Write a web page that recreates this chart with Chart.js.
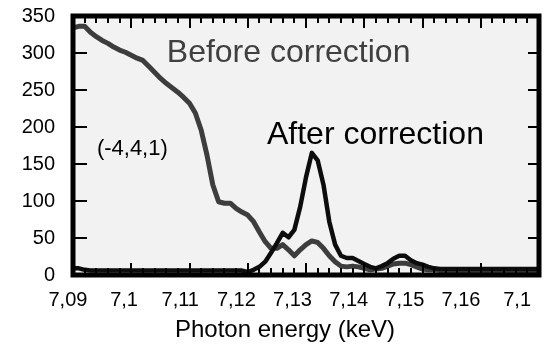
<!DOCTYPE html>
<html><head><meta charset="utf-8">
<script src="https://cdn.jsdelivr.net/npm/chart.js@4/dist/chart.umd.min.js"></script>
<style>html,body{margin:0;padding:0;background:#fff;}</style>
</head><body>
<canvas id="c" width="545" height="344" style="width:545px;height:344px;display:block"></canvas>
<script>
const energies = [
  7.090,7.091,7.092,7.093,7.094,7.095,7.096,7.097,7.098,7.099,
  7.100,7.101,7.102,7.103,7.104,7.105,7.106,7.107,7.108,7.109,
  7.110,7.111,7.112,7.113,7.114,7.115,7.116,7.117,7.118,7.119,
  7.120,7.121,7.122,7.123,7.124,7.125,7.126,7.127,7.128,7.129,
  7.130,7.131,7.132,7.133,7.134,7.135,7.136,7.137,7.138,7.139,
  7.140,7.141,7.142,7.143,7.144,7.145,7.146,7.147,7.148,7.149,
  7.150,7.151,7.152,7.153,7.154,7.155,7.156,7.157,7.158,7.159,
  7.160,7.161,7.162,7.163,7.164,7.165,7.166,7.167,7.168,7.169,7.170
];
const beforeCorrection = [
  334,336,336,328,322,317,313,308,304,301,
  297,293,290,282,274,266,259,253,247,240,
  232,219,196,162,122,99,97,97,90,85,
  81,72,58,45,36,36,41,34,26,34,
  41,46,44,36,26,18,12,11,12,11,
  9,7,8,9,12,15,16,16,14,11,
  8,7,7,6,6,6,6,6,6,6,
  6,6,6,6,6,6,6,6,6,6,6
];
const afterCorrection = [
  9,9,7,6,6,6,6,6,6,6,
  6,6,6,6,6,6,6,6,6,6,
  6,6,6,6,6,6,6,6,6,6,
  4,7,11,18,30,43,57,51,61,92,
  132,165,155,122,72,41,26,23,23,19,
  15,11,9,12,16,22,26,26,20,16,
  14,11,9,8,8,8,8,8,8,8,
  8,8,8,8,8,8,8,8,8,8,8
];
const xTickValues = [7.09,7.10,7.11,7.12,7.13,7.14,7.15,7.16,7.17];
const xTickLabels = ["7,09","7,1","7,11","7,12","7,13","7,14","7,15","7,16","7,1"];
const yTickValues = [0,50,100,150,200,250,300,350];
const seriesNames = ["Before correction","After correction"];
const noteText = "(-4,4,1)";
const xAxisTitle = "Photon energy (keV)";

const FONT = '"Liberation Sans", Arial, Helvetica, sans-serif';

function pts(ys){ return energies.map((e,i)=>({x:e,y:ys[i]})); }

const framePlugin = {
  id: 'frame',
  beforeDatasetsDraw(chart){
    const {ctx, chartArea:a} = chart;
    ctx.save();
    ctx.fillStyle = '#f2f2f2';
    ctx.fillRect(a.left, a.top, a.right-a.left, a.bottom-a.top);
    ctx.restore();
  },
  afterDatasetsDraw(chart){
    const {ctx, chartArea:a, scales} = chart;
    const xs = scales.x, ys = scales.y, xl = scales.xl;
    ctx.save();
    ctx.strokeStyle = '#000';
    ctx.lineWidth = 2;
    const xt = (v, len) => {
      const p = Math.round(xs.getPixelForValue(v));
      ctx.beginPath();
      ctx.moveTo(p, a.bottom); ctx.lineTo(p, a.bottom - len);
      ctx.moveTo(p, a.top); ctx.lineTo(p, a.top + len);
      ctx.stroke();
    };
    for (let i=0;i<xTickValues.length;i++){
      xt(xTickValues[i], 12);
      if (i < xTickValues.length-1){
        for (let k=1;k<5;k++) xt(xTickValues[i] + (xTickValues[i+1]-xTickValues[i])*k/5, 7);
      }
    }
    yTickValues.forEach(v=>{
      const p = Math.round(ys.getPixelForValue(v));
      ctx.beginPath();
      ctx.moveTo(a.left, p); ctx.lineTo(a.left + 14, p);
      ctx.moveTo(a.right, p); ctx.lineTo(a.right - 11, p);
      ctx.stroke();
    });
    ctx.lineWidth = 5;
    ctx.strokeRect(a.left, a.top, a.right-a.left, a.bottom-a.top);

    ctx.textBaseline = 'alphabetic';
    ctx.textAlign = 'left';
    ctx.font = '32px ' + FONT;
    ctx.fillStyle = '#404040';
    ctx.fillText(seriesNames[0], xs.getPixelForValue(7.1061), ys.getPixelForValue(288));
    ctx.fillStyle = '#000';
    ctx.fillText(seriesNames[1], xs.getPixelForValue(7.1233), ys.getPixelForValue(177));
    ctx.font = '22px ' + FONT;
    ctx.fillText(noteText, xs.getPixelForValue(7.0941), ys.getPixelForValue(162));
    ctx.font = '24px ' + FONT;
    ctx.textAlign = 'center';
    ctx.fillText(xAxisTitle, xs.getPixelForValue(7.1264), xl.bottom + 23);
    ctx.restore();
  }
};

function noPad(s){ s.paddingTop = 0; s.paddingBottom = 0; s.paddingLeft = 0; s.paddingRight = 0; }

new Chart(document.getElementById('c'), {
  type: 'line',
  data: {
    datasets: [
      { label: seriesNames[1], data: pts(afterCorrection), borderColor: '#0d0d0d', borderWidth: 4.5,
        pointRadius: 0, tension: 0, borderJoinStyle: 'round', borderCapStyle: 'round', fill: false },
      { label: seriesNames[0], data: pts(beforeCorrection), borderColor: '#3d3d3d', borderWidth: 5,
        pointRadius: 0, tension: 0, borderJoinStyle: 'round', borderCapStyle: 'round', fill: false }
    ]
  },
  options: {
    responsive: false,
    animation: false,
    devicePixelRatio: 1,
    layout: { padding: { left: 0, right: 6, top: 16, bottom: 30 } },
    plugins: { legend: { display: false }, tooltip: { enabled: false } },
    scales: {
      x: { type: 'linear', min: 7.09, max: 7.17, display: false, afterFit: noPad },
      xl: {
        type: 'linear', position: 'bottom', min: 7.0909, max: 7.1739,
        grid: { display: false, drawTicks: false }, border: { display: false },
        afterBuildTicks: s => { s.ticks = xTickValues.map(v=>({value:v})); },
        afterFit: s => { noPad(s); s.height = 39; },
        ticks: {
          autoSkip: false, maxRotation: 0, minRotation: 0, padding: 13,
          color: '#000', font: { family: FONT, size: 20 },
          callback: (v, i) => xTickLabels[i]
        }
      },
      y: {
        type: 'linear', min: 0, max: 350,
        grid: { display: false, drawTicks: false }, border: { display: false },
        afterBuildTicks: s => { s.ticks = yTickValues.map(v=>({value:v})); },
        afterFit: s => { noPad(s); s.width = 73; },
        ticks: { padding: 18, color: '#000', font: { family: FONT, size: 20 } }
      }
    }
  },
  plugins: [framePlugin]
});
</script>
</body></html>
